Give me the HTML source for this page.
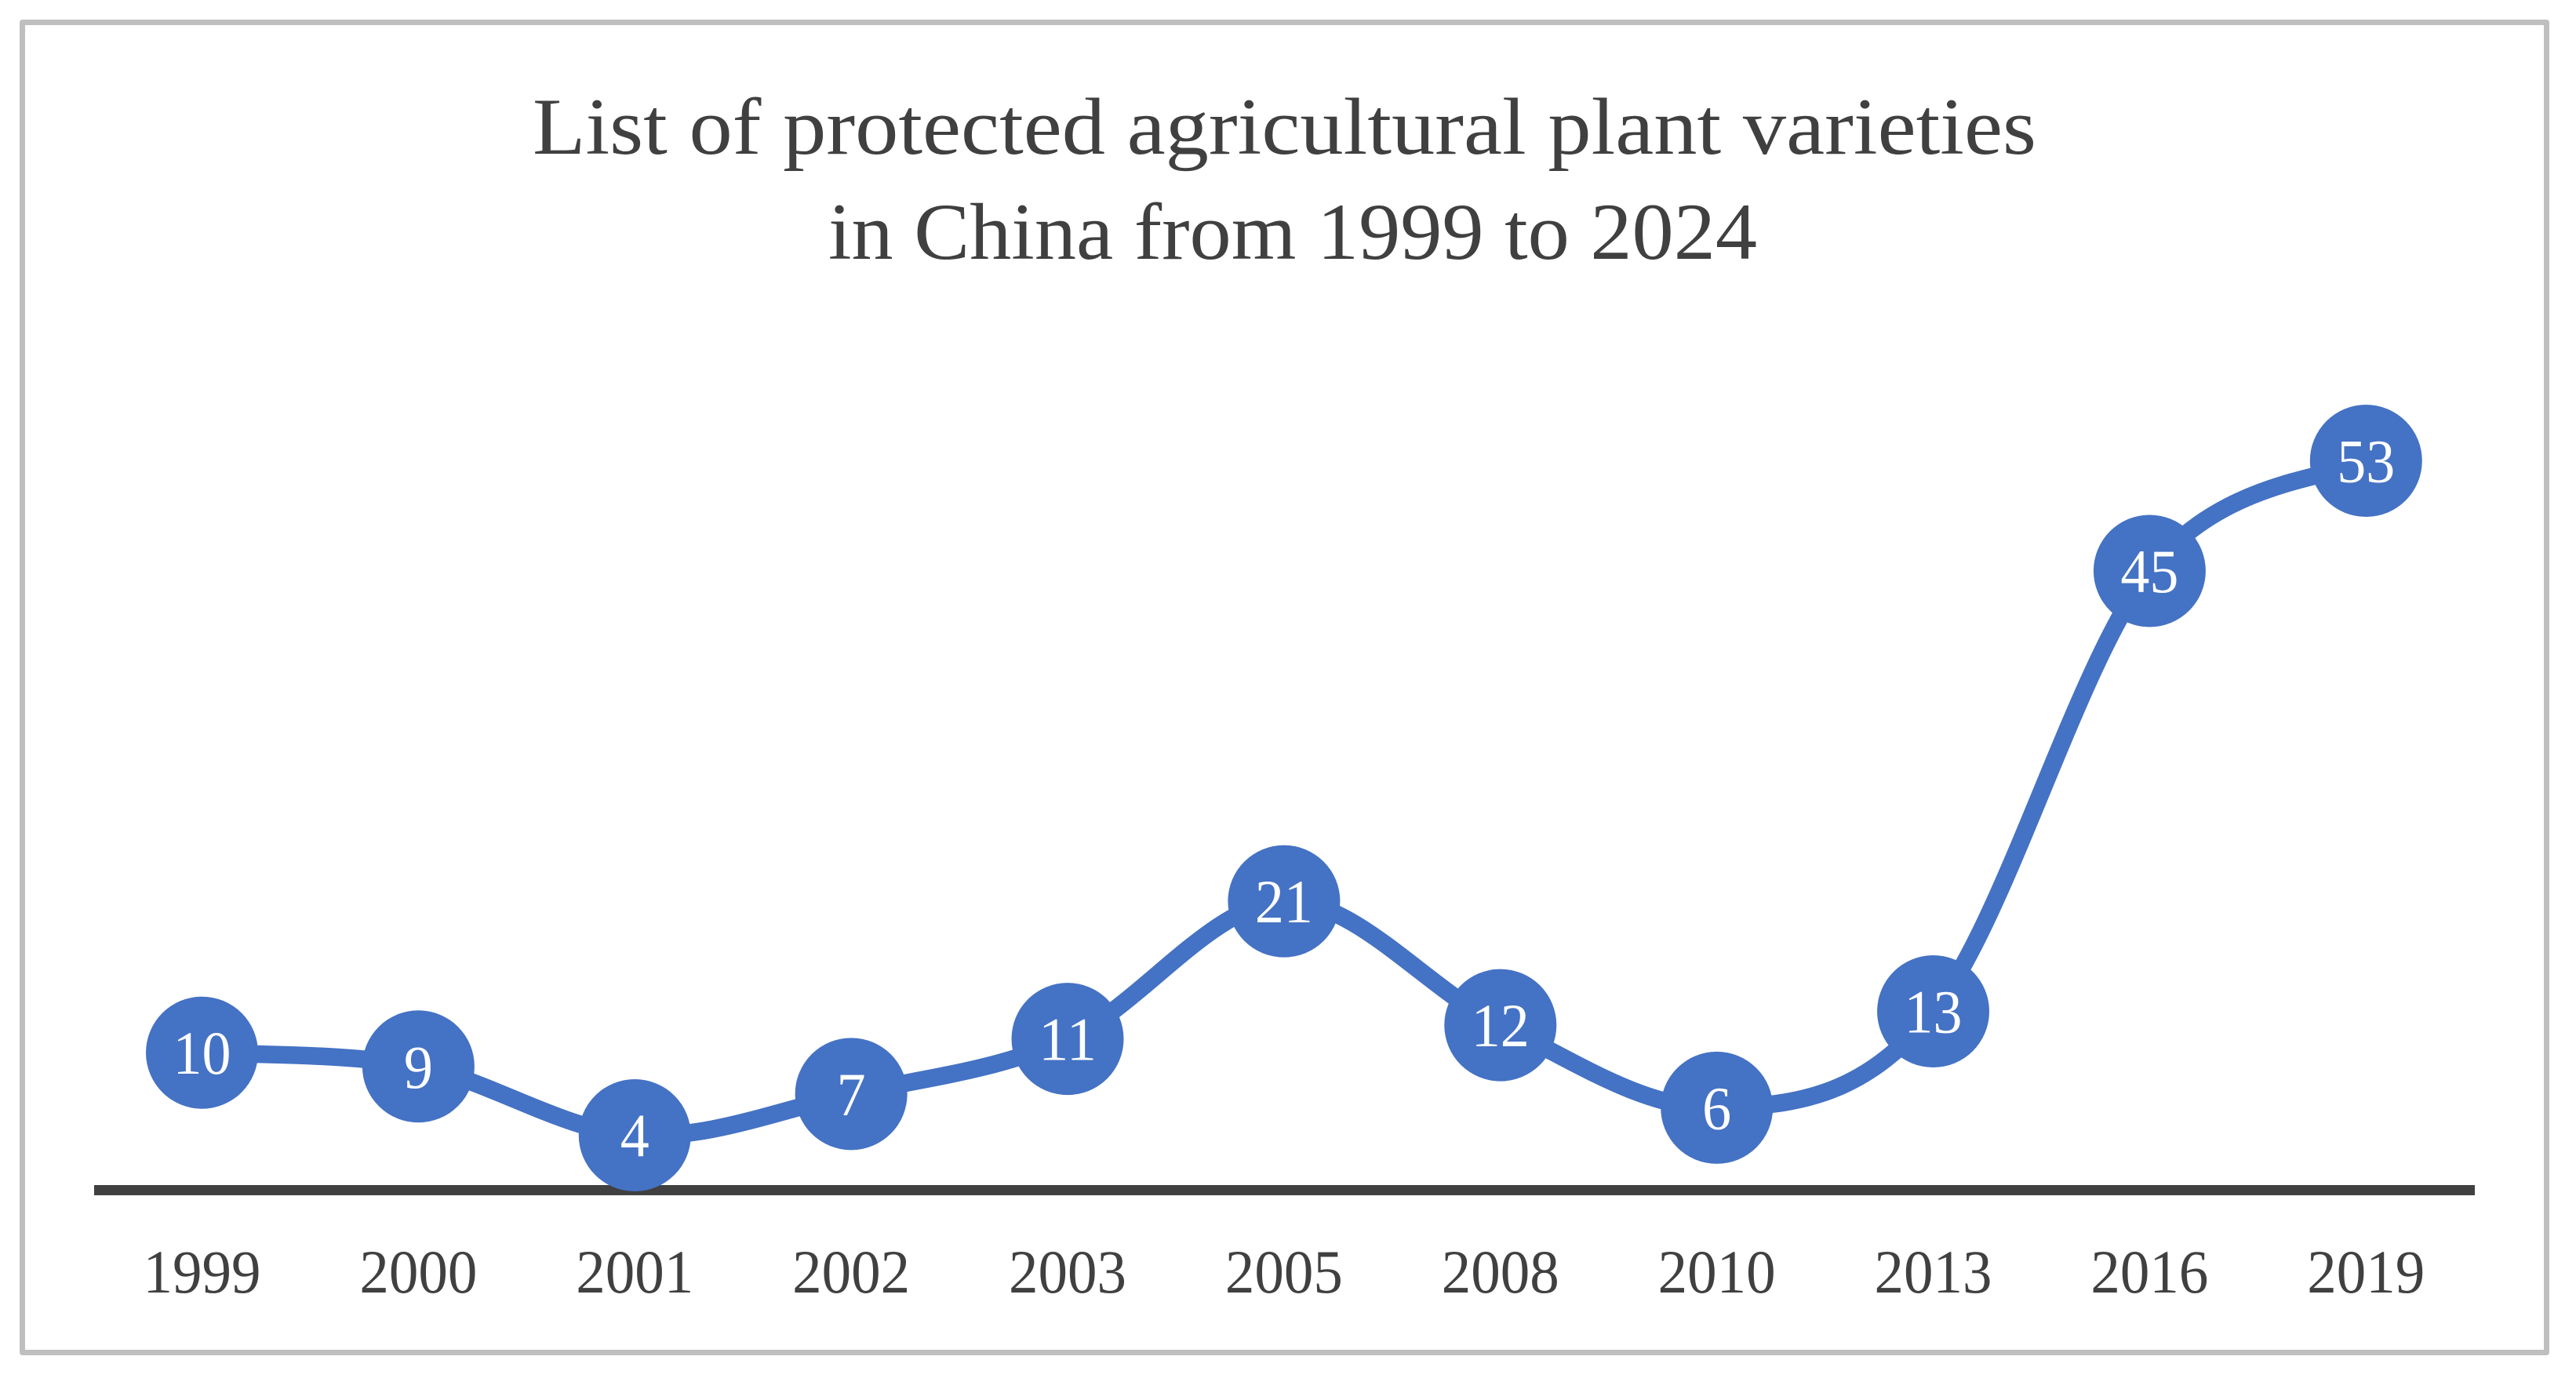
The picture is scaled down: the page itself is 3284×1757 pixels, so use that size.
<!DOCTYPE html>
<html lang="en">
<head>
<meta charset="utf-8">
<title>List of protected agricultural plant varieties in China from 1999 to 2024</title>
<style>
  html, body { margin: 0; padding: 0; background: #ffffff; }
  body { width: 3284px; height: 1757px; overflow: hidden; }
  svg { display: block; }
  text { font-family: "Liberation Serif", serif; }
</style>
</head>
<body>
<svg id="chart" xmlns="http://www.w3.org/2000/svg" width="3284" height="1757" viewBox="0 0 3284 1757">
  <rect x="0" y="0" width="3284" height="1757" fill="#ffffff"></rect>
  <rect x="28.5" y="28.5" width="3218" height="1696" fill="#ffffff" stroke="#bfbfbf" stroke-width="7" stroke-linejoin="round"></rect>
  <g fill="#404040" font-size="103" text-anchor="middle">
    <text x="1637.5" y="196" textLength="1917" lengthAdjust="spacingAndGlyphs">List of protected agricultural plant varieties</text>
    <text x="1648" y="330" textLength="1184" lengthAdjust="spacingAndGlyphs">in China from 1999 to 2024</text>
  </g>
  <rect x="120" y="1511" width="3035" height="13" fill="#404040"></rect>
  <g id="series"></g>
  <g id="tick-labels"></g>
</svg>
<script>
const categories = ["1999", "2000", "2001", "2002", "2003", "2005", "2008", "2010", "2013", "2016", "2019"];
const varieties = [10, 9, 4, 7, 11, 21, 12, 6, 13, 45, 53];

const NS = "http://www.w3.org/2000/svg";
const seriesGroup = document.getElementById("series");
const tickGroup = document.getElementById("tick-labels");

function xScale(i) { return 257.5 + 275.88 * i; }
function yScale(v) { return 1517.7 - 17.55 * v; }

function smoothPath(points) {
  let d = "M" + points[0][0] + "," + points[0][1];
  for (let i = 0; i < points.length - 1; i++) {
    const p0 = points[Math.max(i - 1, 0)];
    const p1 = points[i];
    const p2 = points[i + 1];
    const p3 = points[Math.min(i + 2, points.length - 1)];
    const c1x = p1[0] + (p2[0] - p0[0]) / 6;
    const c1y = p1[1] + (p2[1] - p0[1]) / 6;
    const c2x = p2[0] - (p3[0] - p1[0]) / 6;
    const c2y = p2[1] - (p3[1] - p1[1]) / 6;
    d += " C" + c1x + "," + c1y + " " + c2x + "," + c2y + " " + p2[0] + "," + p2[1];
  }
  return d;
}

const points = varieties.map(function (v, i) { return [xScale(i), yScale(v)]; });

const line = document.createElementNS(NS, "path");


line.setAttribute("d", smoothPath(points));
line.setAttribute("fill", "none");
line.setAttribute("stroke", "#4472c4");
line.setAttribute("stroke-width", "22.5");
line.setAttribute("stroke-linecap", "round");
seriesGroup.appendChild(line);

varieties.forEach(function (v, i) {
  const dot = document.createElementNS(NS, "circle");
  
  
  dot.setAttribute("cx", xScale(i));
  dot.setAttribute("cy", yScale(v));
  dot.setAttribute("r", "71.5");
  dot.setAttribute("fill", "#4472c4");
  seriesGroup.appendChild(dot);

  const text = String(v);
  const label = document.createElementNS(NS, "text");
  
  
  label.setAttribute("x", xScale(i));
  label.setAttribute("y", yScale(v) + 27);
  label.setAttribute("fill", "#ffffff");
  label.setAttribute("font-size", "78");
  label.setAttribute("text-anchor", "middle");
  label.setAttribute("textLength", 37 * text.length);
  label.setAttribute("lengthAdjust", "spacingAndGlyphs");
  label.textContent = text;
  seriesGroup.appendChild(label);
});

categories.forEach(function (c, i) {
  const tick = document.createElementNS(NS, "text");
  
  
  tick.setAttribute("x", xScale(i));
  tick.setAttribute("y", 1648);
  tick.setAttribute("fill", "#404040");
  tick.setAttribute("font-size", "78");
  tick.setAttribute("text-anchor", "middle");
  tick.setAttribute("textLength", 37.5 * c.length);
  tick.setAttribute("lengthAdjust", "spacingAndGlyphs");
  tick.textContent = c;
  tickGroup.appendChild(tick);
});
</script>
</body>
</html>
